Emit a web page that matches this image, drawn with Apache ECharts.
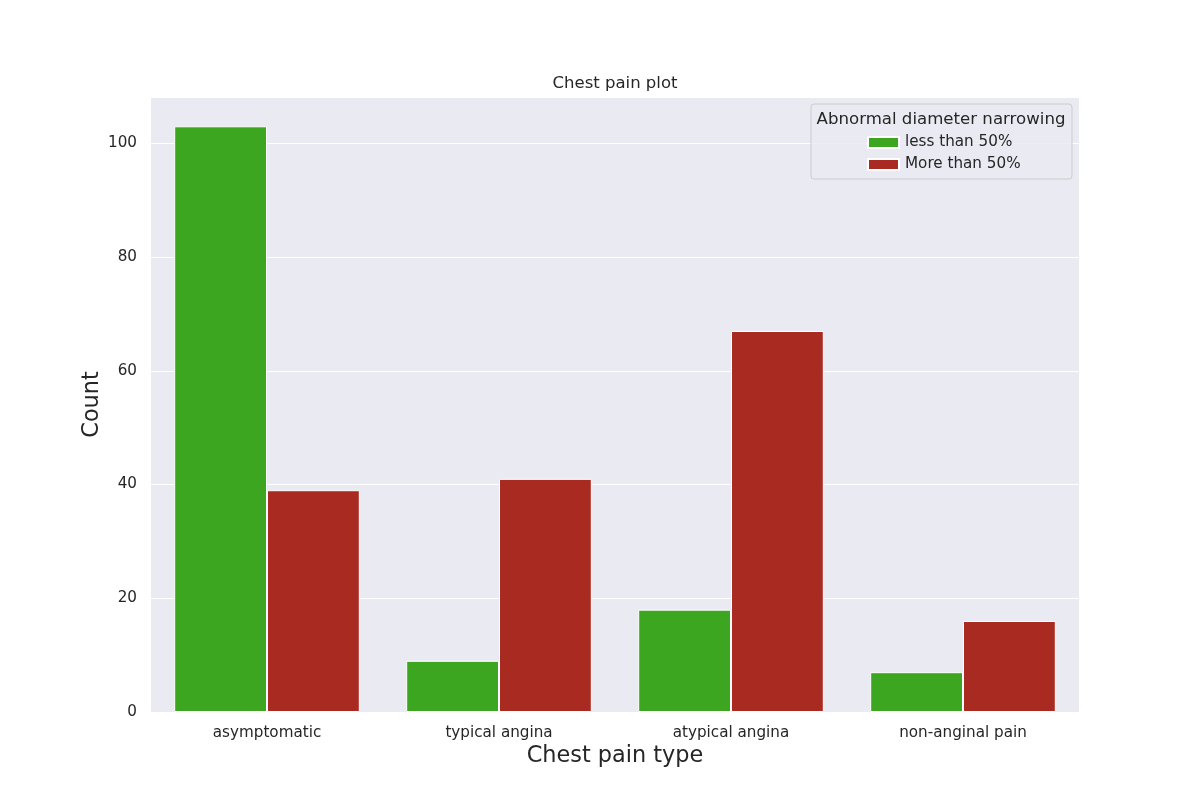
<!DOCTYPE html>
<html>
<head>
<meta charset="utf-8">
<title>Chest pain plot</title>
<script src="https://cdn.jsdelivr.net/npm/echarts@6/dist/echarts.min.js"></script>
<style>
  html, body { margin: 0; padding: 0; background: #fff; }
</style>
</head>
<body>
	<div id="main" style="width: 1200px; height: 800px;"></div>

	<script type="text/javascript">
		// data
		var painTypes = ['asymptomatic', 'typical angina', 'atypical angina', 'non-anginal pain'];
		var lessThan50 = [103, 9, 18, 7];
		var moreThan50 = [39, 41, 67, 16];
		var yTicks = [0, 20, 40, 60, 80, 100];

		var font = 'DejaVu Sans';
		var ink = '#262626';

		var myChart = echarts.init(document.getElementById('main'));

		var option = {
		    backgroundColor: '#ffffff',
		    textStyle: { fontFamily: font, color: ink },
		    animation: false,
		    title: [{
		        text: 'Chest pain plot',
		        left: 610,
		        top: 70,
		        textAlign: 'center',
		        textStyle: { fontFamily: font, fontSize: 16.5, fontWeight: 'normal', color: ink }
		    }, {
		        text: 'Abnormal diameter narrowing',
		        left: 936,
		        top: 106,
		        textAlign: 'center',
		        textStyle: { fontFamily: font, fontSize: 16.6, fontWeight: 'normal', color: ink }
		    }],
		    graphic: [{
		        type: 'rect',
		        z: 5,
		        shape: { x: 811, y: 104, width: 261, height: 75, r: 3 },
		        style: { fill: 'rgba(234,234,242,0.8)', stroke: '#cccccc', lineWidth: 1 }
		    }],
		    legend: {
		        orient: 'vertical',
		        left: 862,
		        top: 130,
		        icon: 'rect',
		        itemWidth: 31,
		        itemHeight: 11,
		        itemGap: 7,
		        z: 6,
		        textStyle: { fontFamily: font, fontSize: 15.2, color: ink, padding: [0, 0, 0, 1] },
		        data: ['less than 50%', 'More than 50%']
		    },
		    grid: {
		        left: 151,
		        right: 121,
		        top: 97,
		        bottom: 88,
		        show: true,
		        backgroundColor: '#eaeaf2',
		        borderWidth: 0
		    },
		    xAxis: {
		        type: 'category',
		        data: painTypes,
		        name: 'Chest pain type',
		        nameLocation: 'middle',
		        nameGap: 33,
		        nameMoveOverlap: false,
		        nameTextStyle: { fontFamily: font, fontSize: 22.4, color: ink },
		        axisLine: { show: false },
		        axisTick: { show: false },
		        axisLabel: { fontFamily: font, fontSize: 15.2, color: ink, margin: 14 },
		        splitLine: { show: false }
		    },
		    yAxis: {
		        type: 'value',
		        min: 0,
		        max: 108.15,
		        interval: yTicks[1] - yTicks[0],
		        name: 'Count',
		        nameLocation: 'middle',
		        nameGap: 48,
		        nameMoveOverlap: false,
		        nameTextStyle: { fontFamily: font, fontSize: 22.4, color: ink },
		        axisLine: { show: false },
		        axisTick: { show: false },
		        axisLabel: {
		            fontFamily: font, fontSize: 15.2, color: ink, margin: 14,
		            showMaxLabel: false,
		            formatter: function (v) { return yTicks.indexOf(v) >= 0 ? String(v) : ''; }
		        },
		        splitLine: { lineStyle: { color: '#ffffff', width: 1.2 } }
		    },
		    series: [{
		        name: 'less than 50%',
		        type: 'bar',
		        barWidth: '40%',
		        barGap: '0%',
		        itemStyle: { color: '#3ca620', borderColor: '#ffffff', borderWidth: 1 },
		        data: lessThan50
		    }, {
		        name: 'More than 50%',
		        type: 'bar',
		        barWidth: '40%',
		        barGap: '0%',
		        itemStyle: { color: '#a82a21', borderColor: '#ffffff', borderWidth: 1 },
		        data: moreThan50
		    }]
		};

		myChart.setOption(option);
	</script>
</body>
</html>
